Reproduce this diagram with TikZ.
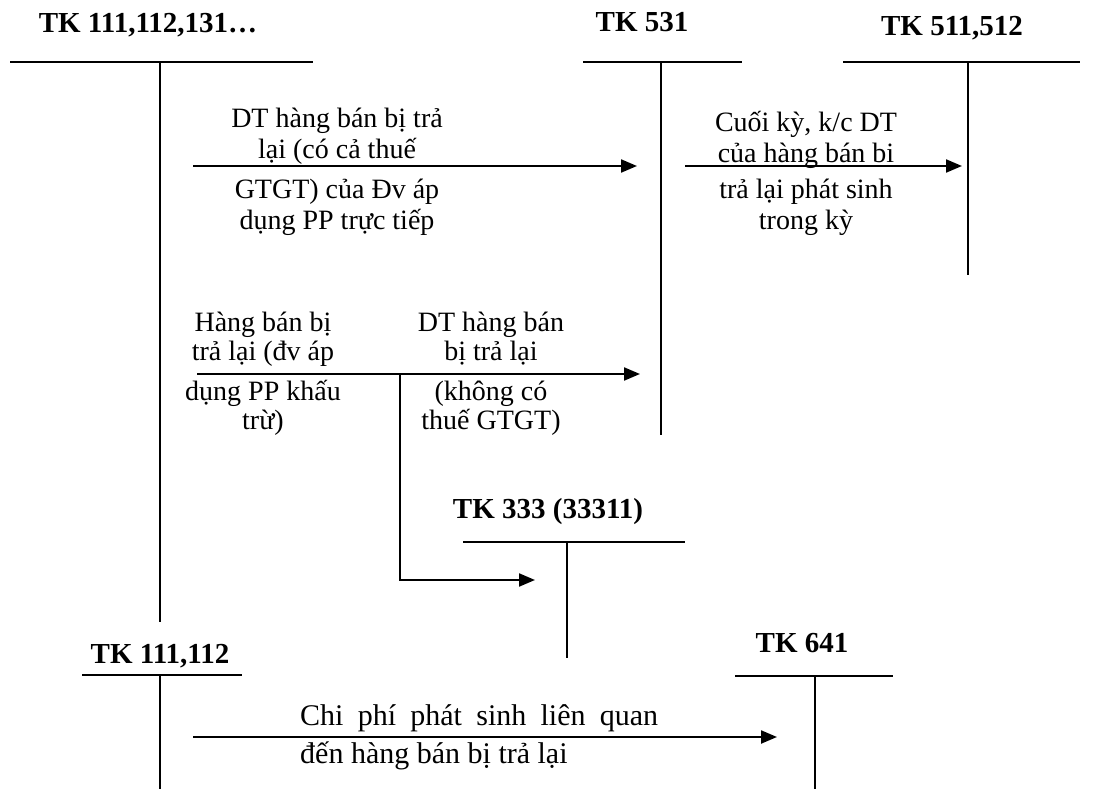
\documentclass[tikz,border=0pt]{standalone}
\usepackage{fontspec}
\setmainfont{Liberation Serif}
\usetikzlibrary{arrows.meta}

\begin{document}
\begin{tikzpicture}[
    x=1pt, y=-1pt,
    title/.style={font=\fontsize{29}{33}\selectfont\bfseries, anchor=base, inner sep=0pt},
    txt/.style={font=\fontsize{28}{31}\selectfont, align=center, anchor=base, inner sep=0pt},
    tline/.style={line width=1.8pt},
    arrow/.style={-{Triangle[length=16pt, width=13pt]}, line width=2.2pt}
]
\useasboundingbox (0,0) rectangle (1106,789);

% Accounts
\node[title] (t1) at (148,33) {TK 111,112,131…};
\node[title] (t2) at (642,32) {TK 531};
\node[title] (t3) at (952,36) {TK 511,512};
\node[title] (t4) at (548,518) {TK 333 (33311)};
\node[title] (t5) at (160,663) {TK 111,112};
\node[title] (t6) at (802,652) {TK 641};

\coordinate (h1l) at (10,62);   \coordinate (h1r) at (313,62);
\coordinate (v1t) at (160,62);  \coordinate (v1b) at (160,622);
\coordinate (h2l) at (583,62);  \coordinate (h2r) at (742,62);
\coordinate (v2t) at (661,62);  \coordinate (v2b) at (661,435);
\coordinate (h3l) at (843,62);  \coordinate (h3r) at (1080,62);
\coordinate (v3t) at (968,62);  \coordinate (v3b) at (968,275);
\coordinate (h4l) at (463,542); \coordinate (h4r) at (685,542);
\coordinate (v4t) at (567,542); \coordinate (v4b) at (567,658);
\coordinate (h5l) at (82,675);  \coordinate (h5r) at (242,675);
\coordinate (v5t) at (160,675); \coordinate (v5b) at (160,789);
\coordinate (h6l) at (735,676); \coordinate (h6r) at (893,676);
\coordinate (v6t) at (815,676); \coordinate (v6b) at (815,789);

\draw[tline] (h1l) -- (h1r); \draw[tline] (v1t) -- (v1b);
\draw[tline] (h2l) -- (h2r); \draw[tline] (v2t) -- (v2b);
\draw[tline] (h3l) -- (h3r); \draw[tline] (v3t) -- (v3b);
\draw[tline] (h4l) -- (h4r); \draw[tline] (v4t) -- (v4b);
\draw[tline] (h5l) -- (h5r); \draw[tline] (v5t) -- (v5b);
\draw[tline] (h6l) -- (h6r); \draw[tline] (v6t) -- (v6b);

% Labels
\node[txt] (l1a) at (337,159) {DT hàng bán bị trả\\lại (có cả thuế};
\node[txt] (l1b) at (337,229) {GTGT) của Đv áp\\dụng PP trực tiếp};
\node[txt] (l2a) at (806,163) {Cuối kỳ, k/c DT\\của hàng bán bi};
\node[txt] (l2b) at (806,229) {trả lại phát sinh\\trong kỳ};
\node[txt, font=\fontsize{28}{29}\selectfont] (l3a) at (263,360) {Hàng bán bị\\trả lại (đv áp};
\node[txt, font=\fontsize{28}{29}\selectfont] (l3b) at (263,429) {dụng PP khấu\\trừ)};
\node[txt, font=\fontsize{28}{29}\selectfont] (l4a) at (491,360) {DT hàng bán\\bị trả lại};
\node[txt, font=\fontsize{28}{29}\selectfont] (l4b) at (491,429) {(không có\\thuế GTGT)};
\node[txt, font=\fontsize{30}{38}\selectfont, align=justify, text width=358pt, anchor=base west] (l5) at (300,725)
    {Chi phí phát sinh liên quan\linebreak đến hàng bán bị trả lại};

% Arrows
\coordinate (a1s) at (193,166); \coordinate (a1e) at (637,166);
\coordinate (a2s) at (685,166); \coordinate (a2e) at (962,166);
\coordinate (a3s) at (197,374); \coordinate (a3e) at (640,374);
\coordinate (a4s) at (400,374); \coordinate (a4e) at (535,580);
\coordinate (a5s) at (193,737); \coordinate (a5e) at (777,737);

\draw[arrow] (a1s) -- (a1e);
\draw[arrow] (a2s) -- (a2e);
\draw[arrow] (a3s) -- (a3e);
\draw[arrow] (a4s) |- (a4e);
\draw[arrow] (a5s) -- (a5e);

\end{tikzpicture}
\end{document}
